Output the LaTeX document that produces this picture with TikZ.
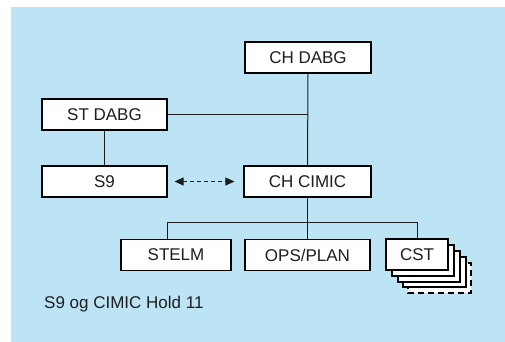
\documentclass[tikz,border=0pt]{standalone}
\usepackage{fontspec}
\setmainfont{Liberation Sans}
\usetikzlibrary{arrows.meta,calc}
\definecolor{panel}{RGB}{189,228,245}
\definecolor{ink}{RGB}{30,30,30}
\tikzset{
  unit/.style={draw=black, line width=1.1pt, fill=white, minimum height=31pt,
    inner sep=0pt, font=\fontsize{17}{20}\selectfont, text=ink},
  link/.style={draw=ink, line width=1pt},
  sheet/.style={draw=black, line width=1.1pt, fill=white},
}
\begin{document}
\begin{tikzpicture}[x=1pt, y=-1pt]
  \useasboundingbox (0,0) rectangle (505,342);
  % background panel
  \fill[panel] (11,7) rectangle (505,342);

  % stacked CST sheets, back to front
  \draw[sheet, dashed, dash pattern=on 6pt off 4pt] (408,263) rectangle (471,293);
  \draw[sheet] (403,257) rectangle (466,287);
  \draw[sheet] (398,251) rectangle (460,282);
  \draw[sheet] (392,245) rectangle (454,276);

  % units
  \node[unit, minimum width=126pt] (chdabg)  at (308,57.5)   {CH DABG};
  \node[unit, minimum width=125pt] (stdabg)  at (104.5,114.5) {ST DABG};
  \node[unit, minimum width=125pt] (s9)      at (104.5,181.5) {S9};
  \node[unit, minimum width=127pt] (chcimic) at (307.5,181.5) {CH CIMIC};
  \node[unit, minimum width=110pt] (stelm)   at (176,255)   {STELM};
  \node[unit, minimum width=125pt] (opsplan) at (307.5,255) {OPS/PLAN};
  \node[unit, minimum width=62pt]  (cst)     at (417,254.5) {CST};

  % connectors
  \draw[link] (chdabg.south) -- (chcimic.north);
  \draw[link] (stdabg.east) -- (stdabg.east -| chdabg.south);
  \draw[link] (stdabg.south) -- (s9.north);
  \draw[link] (chcimic.south) -- (opsplan.north);
  \draw[link] ([xshift=-9pt]stelm.north) -- ++(0,-16) -| (cst.north);
  \draw[link, dash pattern=on 4pt off 3pt,
        {Triangle[length=9pt,width=8pt]}-{Triangle[length=9pt,width=8pt]},
        shorten <=7pt, shorten >=9pt] (s9.east) -- (chcimic.west);

  % caption
  \node[anchor=west, inner sep=0pt, font=\fontsize{17}{20}\selectfont, text=ink]
    (caption) at (44,304) {S9 og CIMIC Hold 11};
\end{tikzpicture}
\end{document}
